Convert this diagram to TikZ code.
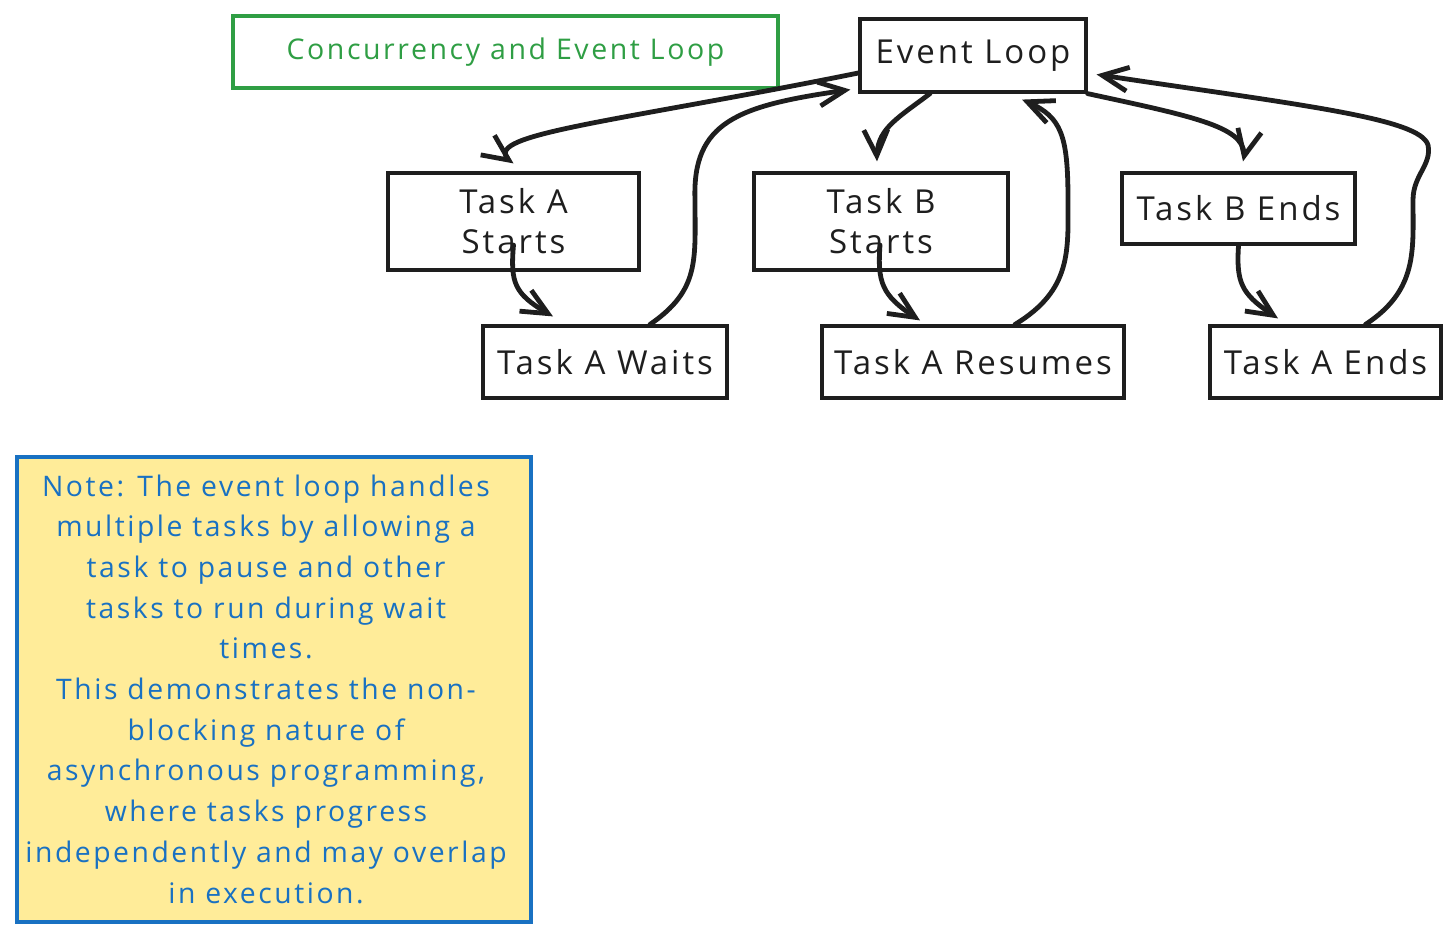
\documentclass[tikz,border=0pt]{standalone}
\usepackage{fontspec}
\setmainfont{Open Sans}[LetterSpace=9]
\usetikzlibrary{arrows.meta,bending}
\definecolor{ttlgreen}{HTML}{2F9E44}
\definecolor{noteblue}{HTML}{1971C2}
\definecolor{noteyellow}{HTML}{FFEC99}
\definecolor{ink}{HTML}{1E1E1E}
\begin{document}
\begin{tikzpicture}[x=1pt,y=-1pt,
  box/.style={draw=ink, line width=3.2pt, inner sep=0pt, align=center,
    text=ink, font=\fontsize{33}{40}\selectfont},
  titlebox/.style={draw=ttlgreen, line width=3.2pt, inner sep=0pt,
    text=ttlgreen, font=\fontsize{28.5}{36}\selectfont},
  notebox/.style={draw=noteblue, fill=noteyellow, line width=3.2pt, inner sep=0pt},
  notetxt/.style={text=noteblue, align=center, inner sep=0pt, font=\fontsize{28.3}{40.7}\selectfont},
  conn/.style={draw=ink, line width=4.8pt, line cap=round, line join=round,
    -{Straight Barb[length=26pt,width=24pt,flex]}}]
\useasboundingbox (0,0) rectangle (1456,938);

\node[titlebox, minimum width=545pt, minimum height=72pt] (ttl) at (505.5,52) {Concurrency and Event Loop};
\node[box, minimum width=226pt, minimum height=73pt] (el) at (973,55.5) {Event Loop};
\node[box, minimum width=251pt, minimum height=97pt] (tas) at (513.5,221.5) {Task A\\Starts};
\node[box, minimum width=254pt, minimum height=97pt] (tbs) at (881,221.5) {Task B\\Starts};
\node[box, minimum width=233pt, minimum height=71pt] (tbe) at (1238.5,208.5) {Task B Ends};
\node[box, minimum width=244pt, minimum height=72pt] (taw) at (605,362) {Task A Waits};
\node[box, minimum width=302pt, minimum height=72pt] (tar) at (973,362) {Task A Resumes};
\node[box, minimum width=231pt, minimum height=72pt] (tae) at (1325.5,362) {Task A Ends};
\node[notebox, minimum width=514pt, minimum height=465pt] (note) at (274,689.5) {};
\node[notetxt] (notetext) at (266,689)
 {Note: The event loop handles\\multiple tasks by allowing a\\task to pause and other\\tasks to run during wait\\times.\\This demonstrates the non-\\blocking nature of\\asynchronous programming,\\where tasks progress\\independently and may overlap\\in execution.};

\draw[conn] ([yshift=-17.5pt]el.west) .. controls (600,125) and (470,135) .. ([yshift=8pt]tas.north);
\draw[conn] ([xshift=45pt]taw.north) .. controls (700,290) and (695,260) .. (695,200)
  .. controls (692,120) and (740,105) .. ([shift={(-8pt,4pt)}]el.south west);
\draw[conn] ([xshift=-43pt]el.south) .. controls (895,120) and (875,130) .. ([shift={(-4pt,10pt)}]tbs.north);
\draw[conn] ([xshift=42pt]tar.north) .. controls (1072,290) and (1068,250) .. (1068,200)
  .. controls (1068,130) and (1060,115) .. ([shift={(49pt,-6pt)}]el.south);
\draw[conn] (el.south east) .. controls (1200,118) and (1252,128) .. ([shift={(4.5pt,10pt)}]tbe.north);
\draw[conn] ([xshift=40pt]tae.north) .. controls (1418,290) and (1413,250) .. (1413,200)
  .. controls (1413,175) and (1432,165) .. (1428,145)
  .. controls (1420,118) and (1300,105) .. ([shift={(9pt,-19pt)}]el.east);
\draw[conn] ([yshift=-23.5pt]tas.center) .. controls (510,285) and (515,295) .. ([shift={(-52pt,8pt)}]taw.north);
\draw[conn] ([shift={(-1pt,-23.5pt)}]tbs.center) .. controls (877,285) and (883,297) .. ([shift={(-53pt,4pt)}]tar.north);
\draw[conn] (tbe.south) .. controls (1236,285) and (1242,295) .. ([shift={(-47.5pt,6pt)}]tae.north);
\end{tikzpicture}
\end{document}
